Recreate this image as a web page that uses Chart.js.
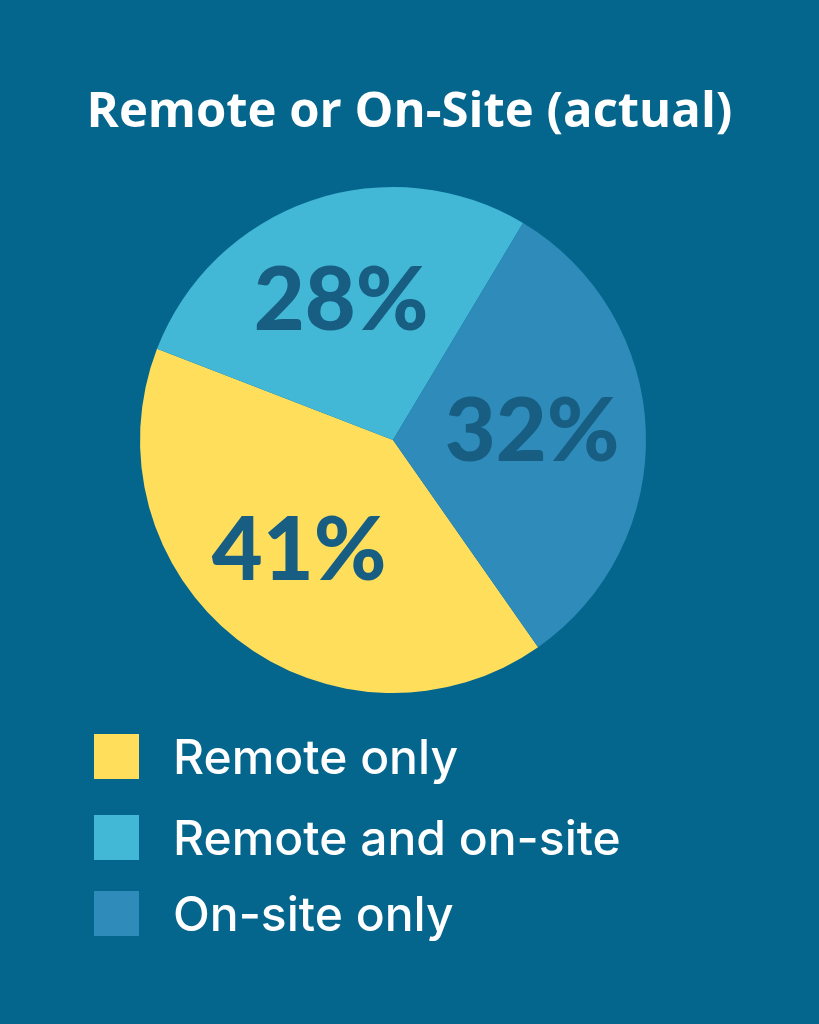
<!DOCTYPE html>
<html>
<head>
<meta charset="utf-8">
<script src="https://cdn.jsdelivr.net/npm/chart.js@4"></script>
<style>
  html, body {
    margin: 0;
    padding: 0;
    background: #05668d;
  }
  #wrap {
    position: relative;
    width: 819px;
    height: 1024px;
  }
  #title {
    position: absolute;
    left: 0;
    width: 819px;
    top: 85px;
    text-align: center;
    font-family: "Open Sans", sans-serif;
    font-weight: 700;
    font-size: 49px;
    line-height: 46px;
    color: #ffffff;
  }
  #legend {
    position: absolute;
    left: 94px;
    top: 734px;
    font-family: "Inter", "DejaVu Sans", sans-serif;
    font-weight: 500;
    font-size: 48px;
    line-height: 45px;
    color: #ffffff;
  }
  .row {
    display: flex;
    align-items: center;
    height: 45px;
    margin-bottom: 36px;
  }
  .row:nth-child(2) {
    margin-bottom: 31px;
  }
  .box {
    width: 45px;
    height: 45px;
    margin-right: 34px;
  }
</style>
</head>
<body>
<div id="wrap">
  <canvas id="pizza" width="819" height="1024"></canvas>
  <div id="title"></div>
  <div id="legend"></div>
</div>
<script>
const chartTitle = "Remote or On-Site (actual)";
const labels = ["Remote only", "Remote and on-site", "On-site only"];
const values = [41, 28, 32];
const colors = ["#ffde5c", "#42b8d6", "#2e8bba"];

// percent text inside each slice
const sliceLabels = {
  id: "sliceLabels",
  afterDatasetsDraw(chart) {
    let ctx = chart.ctx;
    let arcs = chart.getDatasetMeta(0).data;
    ctx.save();
    ctx.font = "900 88px Lato";
    ctx.fillStyle = "#175e82";
    ctx.textAlign = "center";
    ctx.textBaseline = "middle";
    arcs.forEach((arc, i) => {
      let mid = (arc.startAngle + arc.endAngle) / 2;
      let r = arc.outerRadius * 0.57;
      ctx.fillText(values[i] + "%", arc.x + Math.cos(mid) * r - 5, arc.y + Math.sin(mid) * r - 2);
    });
    ctx.restore();
  },
};

new Chart(document.getElementById("pizza"), {
  type: "pie",
  data: {
    labels: labels,
    datasets: [
      {
        data: values,
        backgroundColor: colors,
        borderWidth: 0,
      },
    ],
  },
  options: {
    responsive: false,
    animation: false,
    rotation: 145,
    layout: {
      padding: { top: 187, left: 140, right: 173, bottom: 331 },
    },
    plugins: {
      legend: { display: false },
      tooltip: { enabled: false },
      title: { display: false },
    },
  },
  plugins: [sliceLabels],
});

document.getElementById("title").innerText = chartTitle;

let legend = document.getElementById("legend");
labels.forEach((name, i) => {
  let row = document.createElement("div");
  row.className = "row";
  row.innerHTML = '<span class="box" style="background:' + colors[i] + '"></span><span>' + name + "</span>";
  legend.appendChild(row);
});
</script>
</body>
</html>
